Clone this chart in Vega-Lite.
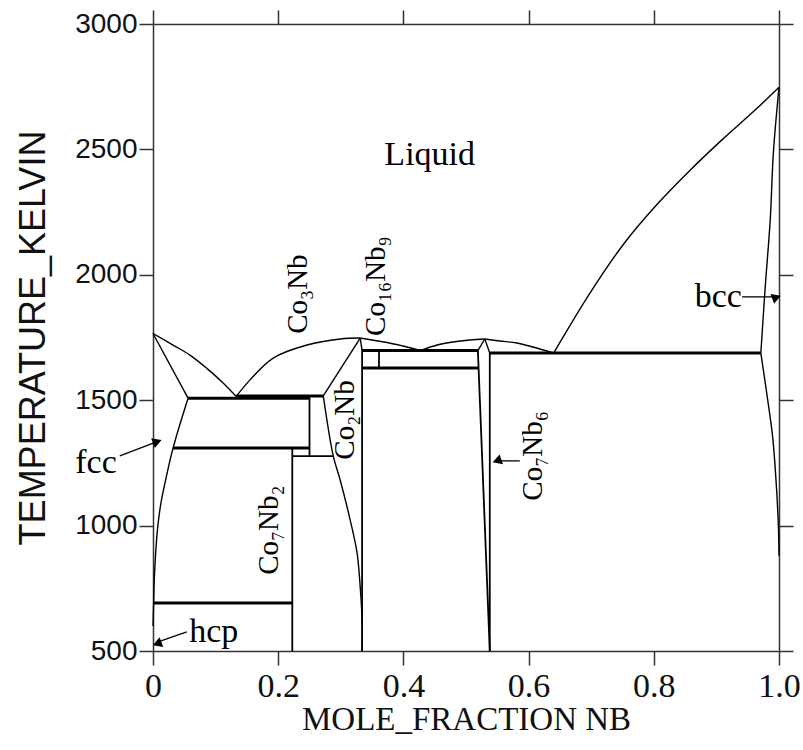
{
  "$schema": "https://vega.github.io/schema/vega-lite/v6.json",
  "width": 626,
  "height": 627,
  "autosize": {"type": "none"},
  "padding": {"left": 153, "top": 24, "right": 24, "bottom": 99},
  "background": "white",
  "config": {"view": {"stroke": null}, "axis": {"grid": false}},
  "datasets": {
    "lines": [
      {"id": "L1", "kind": "boundary", "x": 0, "T": 1766}, {"id": "L1", "kind": "boundary", "x": 0.032, "T": 1720}, {"id": "L1", "kind": "boundary", "x": 0.059, "T": 1680}, {"id": "L1", "kind": "boundary", "x": 0.086, "T": 1627}, {"id": "L1", "kind": "boundary", "x": 0.112, "T": 1569}, {"id": "L1", "kind": "boundary", "x": 0.133, "T": 1515},
      {"id": "L2", "kind": "boundary", "x": 0, "T": 1766}, {"id": "L2", "kind": "boundary", "x": 0.056, "T": 1508},
      {"id": "L3", "kind": "boundary", "x": 0.056, "T": 1508}, {"id": "L3", "kind": "boundary", "x": 0.032, "T": 1309}, {"id": "L3", "kind": "boundary", "x": 0.02, "T": 1180}, {"id": "L3", "kind": "boundary", "x": 0.012, "T": 1080}, {"id": "L3", "kind": "boundary", "x": 0.007, "T": 980}, {"id": "L3", "kind": "boundary", "x": 0.004, "T": 880}, {"id": "L3", "kind": "boundary", "x": 0.002, "T": 780}, {"id": "L3", "kind": "boundary", "x": 0.001, "T": 691}, {"id": "L3", "kind": "boundary", "x": 0.0, "T": 600},
      {"id": "L4", "kind": "boundary", "x": 0.133, "T": 1515}, {"id": "L4", "kind": "boundary", "x": 0.155, "T": 1581}, {"id": "L4", "kind": "boundary", "x": 0.192, "T": 1668}, {"id": "L4", "kind": "boundary", "x": 0.246, "T": 1720}, {"id": "L4", "kind": "boundary", "x": 0.299, "T": 1744}, {"id": "L4", "kind": "boundary", "x": 0.331, "T": 1748},
      {"id": "L5", "kind": "boundary", "x": 0.331, "T": 1748}, {"id": "L5", "kind": "boundary", "x": 0.374, "T": 1730}, {"id": "L5", "kind": "boundary", "x": 0.399, "T": 1716}, {"id": "L5", "kind": "boundary", "x": 0.427, "T": 1698},
      {"id": "L6", "kind": "boundary", "x": 0.427, "T": 1698}, {"id": "L6", "kind": "boundary", "x": 0.454, "T": 1720}, {"id": "L6", "kind": "boundary", "x": 0.479, "T": 1732}, {"id": "L6", "kind": "boundary", "x": 0.506, "T": 1740}, {"id": "L6", "kind": "boundary", "x": 0.530, "T": 1744},
      {"id": "L7", "kind": "boundary", "x": 0.530, "T": 1744}, {"id": "L7", "kind": "boundary", "x": 0.554, "T": 1736}, {"id": "L7", "kind": "boundary", "x": 0.581, "T": 1728}, {"id": "L7", "kind": "boundary", "x": 0.607, "T": 1712}, {"id": "L7", "kind": "boundary", "x": 0.640, "T": 1688},
      {"id": "L8", "kind": "boundary", "x": 0.640, "T": 1688}, {"id": "L8", "kind": "boundary", "x": 0.698, "T": 1927}, {"id": "L8", "kind": "boundary", "x": 0.751, "T": 2120}, {"id": "L8", "kind": "boundary", "x": 0.805, "T": 2280}, {"id": "L8", "kind": "boundary", "x": 0.858, "T": 2417}, {"id": "L8", "kind": "boundary", "x": 0.911, "T": 2543}, {"id": "L8", "kind": "boundary", "x": 0.964, "T": 2662}, {"id": "L8", "kind": "boundary", "x": 1.0, "T": 2748},
      {"id": "L9", "kind": "boundary", "x": 1.0, "T": 2748}, {"id": "L9", "kind": "boundary", "x": 0.991, "T": 2486}, {"id": "L9", "kind": "boundary", "x": 0.986, "T": 2219}, {"id": "L9", "kind": "boundary", "x": 0.978, "T": 1952}, {"id": "L9", "kind": "boundary", "x": 0.971, "T": 1688},
      {"id": "L10", "kind": "boundary", "x": 0.971, "T": 1688}, {"id": "L10", "kind": "boundary", "x": 0.982, "T": 1500}, {"id": "L10", "kind": "boundary", "x": 0.990, "T": 1350}, {"id": "L10", "kind": "boundary", "x": 0.996, "T": 1150}, {"id": "L10", "kind": "boundary", "x": 0.999, "T": 1000}, {"id": "L10", "kind": "boundary", "x": 1.0, "T": 880},
      {"id": "L11", "kind": "boundary", "x": 0.331, "T": 1748}, {"id": "L11", "kind": "boundary", "x": 0.272, "T": 1517},
      {"id": "L12", "kind": "boundary", "x": 0.272, "T": 1517}, {"id": "L12", "kind": "boundary", "x": 0.288, "T": 1277}, {"id": "L12", "kind": "boundary", "x": 0.299, "T": 1182}, {"id": "L12", "kind": "boundary", "x": 0.315, "T": 1022}, {"id": "L12", "kind": "boundary", "x": 0.326, "T": 891}, {"id": "L12", "kind": "boundary", "x": 0.331, "T": 755}, {"id": "L12", "kind": "boundary", "x": 0.334, "T": 624}, {"id": "L12", "kind": "boundary", "x": 0.334, "T": 500},
      {"id": "L13", "kind": "boundary", "x": 0.331, "T": 1748}, {"id": "L13", "kind": "boundary", "x": 0.334, "T": 1698},
      {"id": "L14", "kind": "compound", "x": 0.334, "T": 1698}, {"id": "L14", "kind": "compound", "x": 0.334, "T": 500},
      {"id": "L15", "kind": "compound", "x": 0.361, "T": 1628}, {"id": "L15", "kind": "compound", "x": 0.361, "T": 1698},
      {"id": "L16", "kind": "boundary", "x": 0.530, "T": 1744}, {"id": "L16", "kind": "boundary", "x": 0.519, "T": 1698},
      {"id": "L17", "kind": "compound", "x": 0.519, "T": 1698}, {"id": "L17", "kind": "compound", "x": 0.538, "T": 500},
      {"id": "L18", "kind": "boundary", "x": 0.530, "T": 1744}, {"id": "L18", "kind": "boundary", "x": 0.538, "T": 1688},
      {"id": "L19", "kind": "compound", "x": 0.538, "T": 1688}, {"id": "L19", "kind": "compound", "x": 0.538, "T": 500},
      {"id": "I1", "kind": "invariant", "x": 0.133, "T": 1517}, {"id": "I1", "kind": "invariant", "x": 0.272, "T": 1517},
      {"id": "I2", "kind": "invariant", "x": 0.056, "T": 1508}, {"id": "I2", "kind": "invariant", "x": 0.25, "T": 1508},
      {"id": "I3", "kind": "invariant", "x": 0.032, "T": 1309}, {"id": "I3", "kind": "invariant", "x": 0.25, "T": 1309},
      {"id": "I4", "kind": "compound", "x": 0.2225, "T": 1277}, {"id": "I4", "kind": "compound", "x": 0.288, "T": 1277},
      {"id": "C1", "kind": "compound", "x": 0.25, "T": 1517}, {"id": "C1", "kind": "compound", "x": 0.25, "T": 1277},
      {"id": "C2", "kind": "compound", "x": 0.2225, "T": 1309}, {"id": "C2", "kind": "compound", "x": 0.2225, "T": 500},
      {"id": "I5", "kind": "invariant", "x": 0, "T": 691}, {"id": "I5", "kind": "invariant", "x": 0.2225, "T": 691},
      {"id": "I6", "kind": "invariant", "x": 0.334, "T": 1698}, {"id": "I6", "kind": "invariant", "x": 0.519, "T": 1698},
      {"id": "I7", "kind": "invariant", "x": 0.334, "T": 1628}, {"id": "I7", "kind": "invariant", "x": 0.5205, "T": 1628},
      {"id": "I8", "kind": "invariant", "x": 0.538, "T": 1688}, {"id": "I8", "kind": "invariant", "x": 0.971, "T": 1688}
    ],
    "arrows": [
      {"arrow": "fcc", "x0": -0.053, "T0": 1278, "x1": 0.0068, "T1": 1335},
      {"arrow": "hcp", "x0": 0.054, "T0": 576, "x1": 0.0093, "T1": 537},
      {"arrow": "bcc", "x0": 0.941, "T0": 1912, "x1": 0.992, "T1": 1912},
      {"arrow": "Co7Nb6", "x0": 0.586, "T0": 1258, "x1": 0.5495, "T1": 1258}
    ],
    "labels": [
      {"label": "Liquid", "orient": "horizontal", "x": 0.442, "T": 2478},
      {"label": "fcc", "orient": "horizontal", "x": -0.091, "T": 1250},
      {"label": "hcp", "orient": "horizontal", "x": 0.097, "T": 576},
      {"label": "bcc", "orient": "horizontal", "x": 0.903, "T": 1912},
      {"label": "Co₃Nb", "orient": "vertical", "x": 0.232, "T": 1923},
      {"label": "Co₁₆Nb₉", "orient": "vertical", "x": 0.356, "T": 1955},
      {"label": "Co₂Nb", "orient": "vertical", "x": 0.307, "T": 1421},
      {"label": "Co₇Nb₂", "orient": "vertical", "x": 0.185, "T": 982},
      {"label": "Co₇Nb₆", "orient": "vertical", "x": 0.607, "T": 1278}
    ]
  },
  "layer": [
    {
      "data": {"name": "lines"},
      "transform": [{"filter": "datum.kind == 'boundary'"}],
      "mark": {"type": "line", "interpolate": "catmull-rom", "color": "black", "strokeWidth": 1.4},
      "encoding": {
        "x": {
          "field": "x", "type": "quantitative",
          "scale": {"domain": [0, 1], "nice": false, "zero": false},
          "axis": {
            "orient": "bottom", "values": [0, 0.2, 0.4, 0.6, 0.8, 1],
            "labelExpr": "datum.value == 0 ? '0' : format(datum.value, '.1f')",
            "tickSize": 14, "tickWidth": 1.5, "tickColor": "#333",
            "domainColor": "#333", "domainWidth": 1.5,
            "labelFont": "Liberation Sans Narrow", "labelFontSize": 34, "labelColor": "#111",
            "labelPadding": 4, "labelFlush": false,
            "title": "MOLE_FRACTION NB", "titleFont": "Liberation Sans Narrow", "titleFontSize": 33,
            "titleFontWeight": "normal", "titleColor": "#111", "titlePadding": 0
          }
        },
        "y": {
          "field": "T", "type": "quantitative",
          "scale": {"domain": [500, 3000], "nice": false, "zero": false},
          "axis": {
            "orient": "left", "values": [500, 1000, 1500, 2000, 2500, 3000], "format": "d",
            "tickSize": 14, "tickWidth": 1.5, "tickColor": "#333",
            "domainColor": "#333", "domainWidth": 1.5,
            "labelFont": "Liberation Sans", "labelFontSize": 28, "labelColor": "#111",
            "labelPadding": 2, "labelFlush": false,
            "title": "TEMPERATURE_KELVIN", "titleFont": "Liberation Sans", "titleFontSize": 36,
            "titleFontWeight": "normal", "titleColor": "#111", "titlePadding": 22
          }
        },
        "detail": {"field": "id", "type": "nominal"},
        "order": {"value": null}
      }
    },
    {
      "data": {"name": "lines"},
      "transform": [{"filter": "datum.kind == 'compound'"}],
      "mark": {"type": "line", "interpolate": "linear", "color": "black", "strokeWidth": 1.8},
      "encoding": {
        "x": {"field": "x", "type": "quantitative", "axis": null},
        "y": {"field": "T", "type": "quantitative", "axis": null},
        "detail": {"field": "id", "type": "nominal"},
        "order": {"value": null}
      }
    },
    {
      "data": {"name": "lines"},
      "transform": [{"filter": "datum.kind == 'invariant'"}],
      "mark": {"type": "line", "interpolate": "linear", "color": "black", "strokeWidth": 3},
      "encoding": {
        "x": {"field": "x", "type": "quantitative", "axis": null},
        "y": {"field": "T", "type": "quantitative", "axis": null},
        "detail": {"field": "id", "type": "nominal"},
        "order": {"value": null}
      }
    },
    {
      "data": {"name": "arrows"},
      "mark": {"type": "rule", "color": "black", "strokeWidth": 1.3},
      "encoding": {
        "x": {
          "field": "x0", "type": "quantitative",
          "axis": {
            "orient": "top", "values": [0, 0.2, 0.4, 0.6, 0.8, 1], "labels": false, "title": null,
            "tickSize": 14, "tickWidth": 1.5, "tickColor": "#333", "domainColor": "#333", "domainWidth": 1.5
          }
        },
        "y": {
          "field": "T0", "type": "quantitative",
          "axis": {
            "orient": "right", "values": [500, 1000, 1500, 2000, 2500, 3000], "labels": false, "title": null,
            "tickSize": 14, "tickWidth": 1.5, "tickColor": "#333", "domainColor": "#333", "domainWidth": 1.5
          }
        },
        "x2": {"field": "x1"},
        "y2": {"field": "T1"}
      }
    },
    {
      "data": {"name": "arrows"},
      "mark": {"type": "point", "shape": "triangle-right", "filled": true, "color": "black", "size": 110, "opacity": 1},
      "encoding": {
        "x": {"field": "x1", "type": "quantitative", "axis": null},
        "y": {"field": "T1", "type": "quantitative", "axis": null},
        "angle": {
          "field": "arrow", "type": "nominal",
          "scale": {"domain": ["fcc", "hcp", "bcc", "Co7Nb6"], "range": [339, 161, 0, 180]},
          "legend": null
        }
      }
    },
    {
      "data": {"name": "labels"},
      "transform": [{"filter": "datum.orient == 'horizontal'"}],
      "mark": {"type": "text", "font": "Liberation Serif", "fontSize": 34, "color": "black", "align": "center", "baseline": "middle"},
      "encoding": {
        "x": {"field": "x", "type": "quantitative", "axis": null},
        "y": {"field": "T", "type": "quantitative", "axis": null},
        "text": {"field": "label"}
      }
    },
    {
      "data": {"name": "labels"},
      "transform": [{"filter": "datum.orient == 'vertical'"}],
      "mark": {"type": "text", "font": "Liberation Serif", "fontSize": 29, "color": "black", "align": "center", "baseline": "middle", "angle": 270},
      "encoding": {
        "x": {"field": "x", "type": "quantitative", "axis": null},
        "y": {"field": "T", "type": "quantitative", "axis": null},
        "text": {"field": "label"}
      }
    }
  ],
  "resolve": {"axis": {"x": "independent", "y": "independent"}}
}
